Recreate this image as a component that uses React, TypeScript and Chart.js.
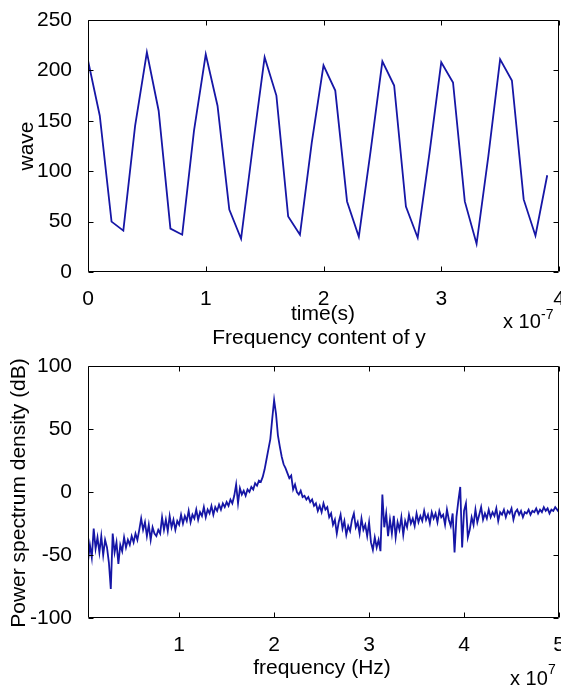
import { useEffect, useRef } from "react";
import { Chart, registerables } from "chart.js";

Chart.register(...registerables);

// ---------- data ----------
// time axis in units of 1e-7 s
const waveTime = [
  0.0, 0.1, 0.2, 0.3, 0.4, 0.5, 0.6, 0.7, 0.8, 0.9,
  1.0, 1.1, 1.2, 1.3, 1.4, 1.5, 1.6, 1.7, 1.8, 1.9,
  2.0, 2.1, 2.2, 2.3, 2.4, 2.5, 2.6, 2.7, 2.8, 2.9,
  3.0, 3.1, 3.2, 3.3, 3.4, 3.5, 3.6, 3.7, 3.8, 3.9,
];
const waveValues = [
  210, 155, 50, 41, 145, 218, 160, 43, 37, 140,
  216, 165, 62, 33, 125, 213, 175, 55, 37, 128,
  205, 180, 70, 35, 120, 209, 185, 65, 34, 118,
  208, 188, 70, 28, 115, 211, 190, 72, 36, 96,
];

// frequency axis in units of 1e7 Hz
const freqs = [
  0.04, 0.06, 0.08, 0.10, 0.12, 0.14, 0.16, 0.18, 0.20, 0.22,
  0.24, 0.26, 0.28, 0.30, 0.32, 0.34, 0.36, 0.38, 0.40, 0.42,
  0.44, 0.46, 0.48, 0.50, 0.52, 0.54, 0.56, 0.58, 0.60, 0.62,
  0.64, 0.66, 0.68, 0.70, 0.72, 0.74, 0.76, 0.78, 0.80, 0.82,
  0.84, 0.86, 0.88, 0.90, 0.92, 0.94, 0.96, 0.98, 1.00, 1.02,
  1.04, 1.06, 1.08, 1.10, 1.12, 1.14, 1.16, 1.18, 1.20, 1.22,
  1.24, 1.26, 1.28, 1.30, 1.32, 1.34, 1.36, 1.38, 1.40, 1.42,
  1.44, 1.46, 1.48, 1.50, 1.52, 1.54, 1.56, 1.58, 1.60, 1.62,
  1.64, 1.66, 1.68, 1.70, 1.72, 1.74, 1.76, 1.78, 1.80, 1.82,
  1.84, 1.86, 1.88, 1.90, 1.92, 1.94, 1.96, 1.98, 2.00, 2.02,
  2.04, 2.06, 2.08, 2.10, 2.12, 2.14, 2.16, 2.18, 2.20, 2.22,
  2.24, 2.26, 2.28, 2.30, 2.32, 2.34, 2.36, 2.38, 2.40, 2.42,
  2.44, 2.46, 2.48, 2.50, 2.52, 2.54, 2.56, 2.58, 2.60, 2.62,
  2.64, 2.66, 2.68, 2.70, 2.72, 2.74, 2.76, 2.78, 2.80, 2.82,
  2.84, 2.86, 2.88, 2.90, 2.92, 2.94, 2.96, 2.98, 3.00, 3.02,
  3.04, 3.06, 3.08, 3.10, 3.12, 3.14, 3.16, 3.18, 3.20, 3.22,
  3.24, 3.26, 3.28, 3.30, 3.32, 3.34, 3.36, 3.38, 3.40, 3.42,
  3.44, 3.46, 3.48, 3.50, 3.52, 3.54, 3.56, 3.58, 3.60, 3.62,
  3.64, 3.66, 3.68, 3.70, 3.72, 3.74, 3.76, 3.78, 3.80, 3.82,
  3.84, 3.86, 3.88, 3.90, 3.92, 3.94, 3.96, 3.98, 4.00, 4.02,
  4.04, 4.06, 4.08, 4.10, 4.12, 4.14, 4.16, 4.18, 4.20, 4.22,
  4.24, 4.26, 4.28, 4.30, 4.32, 4.34, 4.36, 4.38, 4.40, 4.42,
  4.44, 4.46, 4.48, 4.50, 4.52, 4.54, 4.56, 4.58, 4.60, 4.62,
  4.64, 4.66, 4.68, 4.70, 4.72, 4.74, 4.76, 4.78, 4.80, 4.82,
  4.84, 4.86, 4.88, 4.90, 4.92, 4.94, 4.96, 4.98, 5.00,
];
const psdDb = [
  -55, -42, -52, -29, -45, -36, -48, -35, -50, -38,
  -44, -56, -77, -33, -48, -40, -57, -42, -47, -36,
  -44, -38, -42, -35, -40, -33, -38, -30, -21, -30,
  -24, -35, -26, -38, -28, -33, -35, -30, -33, -20,
  -30, -22, -31, -19, -28, -22, -30, -23, -26, -18,
  -25, -19, -23, -15, -24, -18, -21, -14, -22, -16,
  -19, -12, -20, -14, -17, -11, -18, -12, -15, -10,
  -14, -9, -12, -8, -11, -6, -9, -3, 6, -9,
  3, -2, 1, -3, 2, 0, 4, 2, 7, 5,
  9, 8, 12, 18, 26, 34, 42, 58, 73, 62,
  45, 36, 28, 22, 19, 15, 11, 13, 2, 6,
  0, -2, 1, -4, -3, -6, -4, -8, -6, -11,
  -9, -15, -11, -16, -9, -14, -12, -20, -17, -26,
  -22, -33, -24, -18, -29, -23, -34, -27, -31, -22,
  -17, -28, -24, -33, -21, -30, -26, -35, -24, -40,
  -46, -36, -44, -38, -47, -2, -28, -17, -35, -22,
  -33, -19, -36, -24, -30, -20, -34, -23, -28, -18,
  -25, -21, -27, -17, -24, -19, -23, -15, -22, -18,
  -25, -16, -21, -17, -24, -15, -20, -18, -26, -14,
  -22, -27, -17, -48, -20, -7, 4, -44, -15, -9,
  -36, -30, -20, -26, -14, -24, -18, -12, -22, -17,
  -21, -14, -20, -16, -19, -13, -23, -16, -18, -14,
  -20, -15, -17, -13, -22, -16, -14, -18, -15, -20,
  -16, -17, -14, -18, -15, -16, -13, -17, -14, -16,
  -12, -15, -13, -17, -14, -15, -12, -14, -16,
];

const timeTicks = [0, 1, 2, 3, 4];
const waveTicks = [0, 50, 100, 150, 200, 250];
const freqTicks = [1, 2, 3, 4, 5];
const dbTicks = [-100, -50, 0, 50, 100];

// ---------- styling ----------
const FONT = '"Liberation Sans", Arial, Helvetica, sans-serif';
const LINE_COLOR = "#1616a6";

type TextItem = {
  text: string;
  x: number;
  y: number;
  size: number;
  align: CanvasTextAlign;
  rotate?: boolean;
};

const matlabFrame = {
  id: "matlabFrame",
  afterDatasetsDraw(chart: any, _args: any, opts: any) {
    const { ctx, chartArea: a, scales } = chart;
    const L = Math.round(a.left) + 0.5;
    const R = Math.round(a.right) - 0.5;
    const T = Math.round(a.top) + 0.5;
    const B = Math.round(a.bottom) - 0.5;
    ctx.save();
    ctx.strokeStyle = "#000";
    ctx.lineWidth = 1;
    ctx.beginPath();
    ctx.rect(L, T, R - L, B - T);
    const tl = 5;
    for (const v of opts.xTicks as number[]) {
      const px = Math.round(scales.x.getPixelForValue(v)) + 0.5;
      ctx.moveTo(px, B);
      ctx.lineTo(px, B - tl);
      ctx.moveTo(px, T);
      ctx.lineTo(px, T + tl);
    }
    for (const v of opts.yTicks as number[]) {
      const py = Math.round(scales.y.getPixelForValue(v)) + 0.5;
      ctx.moveTo(L, py);
      ctx.lineTo(L + tl, py);
      ctx.moveTo(R, py);
      ctx.lineTo(R - tl, py);
    }
    ctx.stroke();

    ctx.fillStyle = "#000";
    for (const t of opts.texts as TextItem[]) {
      ctx.save();
      ctx.font = `${t.size}px ${FONT}`;
      ctx.textAlign = t.align;
      ctx.textBaseline = "alphabetic";
      ctx.translate(t.x, t.y);
      if (t.rotate) ctx.rotate(-Math.PI / 2);
      ctx.fillText(t.text, 0, 0);
      ctx.restore();
    }
    ctx.restore();
  },
};

type PlotSpec = {
  xs: number[];
  ys: number[];
  xMin: number;
  xMax: number;
  yMin: number;
  yMax: number;
  xTicks: number[];
  yTicks: number[];
  padTop: number;
  xAxisHeight: number;
  texts: TextItem[];
};

function makeChart(canvas: HTMLCanvasElement, s: PlotSpec) {
  const tickFont = { family: FONT, size: 21 };
  return new Chart(canvas, {
    type: "line",
    data: {
      datasets: [
        {
          data: s.xs.map((x, i) => ({ x, y: s.ys[i] })),
          borderColor: LINE_COLOR,
          borderWidth: 1.8,
          pointRadius: 0,
          tension: 0,
          fill: false,
        },
      ],
    },
    options: {
      responsive: false,
      animation: false,
      events: [],
      layout: {
        autoPadding: false,
        padding: { top: s.padTop, right: 2, left: 0, bottom: 0 },
      },
      plugins: {
        legend: { display: false },
        tooltip: { enabled: false },
        title: { display: false },
        matlabFrame: { xTicks: s.xTicks, yTicks: s.yTicks, texts: s.texts },
      } as any,
      scales: {
        x: {
          type: "linear",
          min: s.xMin,
          max: s.xMax,
          grid: { display: false },
          border: { display: false },
          ticks: {
            font: tickFont,
            color: "#000",
            padding: 7,
            autoSkip: false,
            maxRotation: 0,
            callback: (v: any) => String(v),
          },
          afterBuildTicks: (axis: any) => {
            axis.ticks = s.xTicks.map((v) => ({ value: v }));
          },
          afterFit: (axis: any) => {
            axis.height = s.xAxisHeight;
            axis.paddingLeft = 0;
            axis.paddingRight = 0;
          },
        },
        y: {
          type: "linear",
          min: s.yMin,
          max: s.yMax,
          grid: { display: false },
          border: { display: false },
          ticks: {
            font: tickFont,
            color: "#000",
            padding: 8,
            autoSkip: false,
            callback: (v: any) => String(v),
          },
          afterBuildTicks: (axis: any) => {
            axis.ticks = s.yTicks.map((v) => ({ value: v }));
          },
          afterFit: (axis: any) => {
            axis.width = 88;
            axis.paddingTop = 0;
            axis.paddingBottom = 0;
          },
        },
      },
    },
    plugins: [matlabFrame as any],
  });
}

export default function App() {
  const topRef = useRef<HTMLCanvasElement>(null);
  const botRef = useRef<HTMLCanvasElement>(null);

  useEffect(() => {
    const c1 = makeChart(topRef.current!, {
      xs: waveTime,
      ys: waveValues,
      xMin: 0,
      xMax: 4,
      yMin: 0,
      yMax: 250,
      xTicks: timeTicks,
      yTicks: waveTicks,
      padTop: 20,
      xAxisHeight: 59,
      texts: [
        { text: "wave", x: 33, y: 146, size: 21, align: "center", rotate: true },
        { text: "time(s)", x: 323, y: 320, size: 21, align: "center" },
        { text: "x 10", x: 503, y: 328, size: 20, align: "left" },
        { text: "-7", x: 541, y: 319, size: 14, align: "left" },
      ],
    });
    const c2 = makeChart(botRef.current!, {
      xs: freqs,
      ys: psdDb,
      xMin: 0.04,
      xMax: 5,
      yMin: -100,
      yMax: 100,
      xTicks: freqTicks,
      yTicks: dbTicks,
      padTop: 41,
      xAxisHeight: 69,
      texts: [
        { text: "Frequency content of y", x: 319, y: 19, size: 21, align: "center" },
        { text: "Power spectrum density (dB)", x: 25, y: 168, size: 21, align: "center", rotate: true },
        { text: "frequency (Hz)", x: 322, y: 349, size: 21, align: "center" },
        { text: "x 10", x: 510, y: 360, size: 20, align: "left" },
        { text: "7", x: 548, y: 349, size: 14, align: "left" },
      ],
    });
    return () => {
      c1.destroy();
      c2.destroy();
    };
  }, []);

  return (
    <div
      style={{
        position: "absolute",
        left: 0,
        top: 0,
        width: 561,
        height: 687,
        background: "#fff",
        overflow: "hidden",
      }}
    >
      <canvas
        ref={topRef}
        width={561}
        height={331}
        style={{ position: "absolute", left: 0, top: 0, width: 561, height: 331 }}
      />
      <canvas
        ref={botRef}
        width={561}
        height={362}
        style={{ position: "absolute", left: 0, top: 325, width: 561, height: 362 }}
      />
    </div>
  );
}
